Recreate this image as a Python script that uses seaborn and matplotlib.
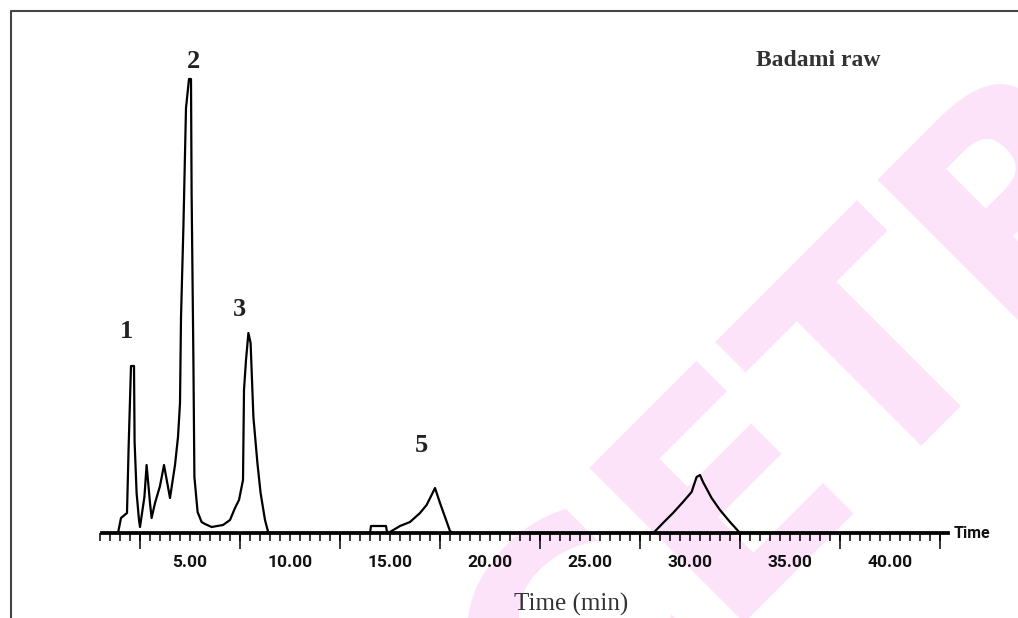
import numpy as np
import pandas as pd
import matplotlib
matplotlib.use('Agg')
import matplotlib.pyplot as plt
from matplotlib.lines import Line2D
import seaborn as sns

# ------------------------------------------------------------
# Chromatogram trace (time in min, response in arbitrary units)
# ------------------------------------------------------------
time_min = [0.58, 1.40, 1.55, 1.85, 1.93, 2.05, 2.20, 2.23, 2.33, 2.45,
            2.50, 2.72, 2.83, 3.00, 3.08, 3.25, 3.50, 3.70, 4.00, 4.25,
            4.40, 4.50, 4.55, 4.67, 4.80, 4.95, 5.05, 5.08, 5.17, 5.22,
            5.38, 5.58, 5.75, 6.08, 6.65, 7.00, 7.25, 7.45, 7.65, 7.70,
            7.80, 7.92, 8.03, 8.17, 8.37, 8.53, 8.75, 8.92, 14.00, 14.05,
            14.80, 14.85, 15.00, 15.50, 16.00, 16.50, 16.83, 17.08, 17.25, 17.50,
            17.75, 18.00, 18.15, 28.17, 28.65, 29.15, 29.65, 30.08, 30.33, 30.50,
            30.65, 31.08, 31.50, 32.00, 32.50, 42.90]
response = [0, 0, 15, 20, 85, 167, 167, 91, 40, 13,
            6, 36, 68, 30, 15, 30, 47, 68, 35, 68,
            96, 130, 215, 306, 425, 454, 454, 341, 173, 56,
            21, 11, 9, 6, 8, 13, 25, 33, 53, 143,
            173, 200, 190, 116, 70, 40, 13, 0, 0, 7,
            7, 1, 1, 7, 11, 20, 28, 38, 45, 30,
            16, 2, 0, 0, 10, 20, 31, 41, 56, 58,
            51, 35, 23, 11, 0, 0]

# labelled peaks: number and retention time (min)
peak_numbers = ['1', '2', '3', '5']
peak_rt = [2.1, 5.0, 7.9, 17.25]

tick_values = [5, 10, 15, 20, 25, 30, 35, 40]
tick_labels = ['5.00', '10.00', '15.00', '20.00', '25.00', '30.00', '35.00', '40.00']

sample_name = 'Badami raw'
watermark = 'CETR'

df = pd.DataFrame({'Time': time_min, 'Response': response})

sns.set_theme(style='white')
plt.rcParams['font.family'] = ['DejaVu Sans']

fig = plt.figure(figsize=(10.18, 6.18), dpi=100)
ax = fig.add_axes([90 / 1018, 85 / 618, 900 / 1018, 493 / 618])
ax.set_zorder(2)
ax.set_xlim(0, 45)
ax.set_ylim(0, 493)
ax.patch.set_alpha(0)

# watermark behind everything
fig.text(810 / 1018, 1 - 425 / 618, watermark, rotation=45, ha='center', va='center',
         rotation_mode='anchor', fontsize=215, fontweight='bold', color='#fce3fa',
         family='DejaVu Sans', zorder=0)

# the trace
sns.lineplot(data=df, x='Time', y='Response', ax=ax, color='black', linewidth=1.6,
             sort=False, estimator=None, zorder=3)

# axis styling: only the baseline with ticks
for side in ['left', 'right', 'top']:
    ax.spines[side].set_visible(False)
ax.spines['bottom'].set_bounds(0.6, 42.9)
ax.spines['bottom'].set_linewidth(2.7)
ax.spines['bottom'].set_color('black')
ax.set_yticks([])
ax.set_xticks(tick_values)
ax.set_xticklabels(tick_labels, family='Roboto', fontweight='bold',
                   fontsize=12.5, color='#111111')
ax.set_xticks(np.arange(0.5, 43.0, 0.5), minor=True)
ax.tick_params(axis='x', which='both', bottom=True, direction='out', length=5.8,
               width=1.1, color='black', pad=10)
ax.set_xlabel('')
ax.set_ylabel('')

# longer ticks halfway between labels
sec = ax.secondary_xaxis('bottom')
sec.set_xticks(np.arange(2.5, 43.0, 5.0))
sec.set_xticklabels([])
sec.tick_params(axis='x', length=11.5, width=1.1, color='black')
sec.spines['bottom'].set_visible(False)

ax.text(43.2, 0, 'Time', ha='left', va='center', fontsize=11.5,
        family='Roboto', fontweight='bold', color='#111111')

# peak numbers
label_dx = [-0.25, 0.15, -0.45, -0.7]
label_dy = [34, 18, 23, 43]
for num, rt, dx, dy in zip(peak_numbers, peak_rt, label_dx, label_dy):
    apex = df.loc[(df['Time'] - rt).abs().idxmin(), 'Response']
    ax.text(rt + dx, apex + dy, num, ha='center', va='center', fontsize=19,
            fontweight='bold', family='Liberation Serif', color='#222222')

fig.text(818 / 1018, 1 - 60 / 618, sample_name, ha='center', va='center', fontsize=17,
         fontweight='bold', family='Liberation Serif', color='#333333', zorder=3)
fig.text(571 / 1018, 1 - 604 / 618, 'Time (min)', ha='center', va='center', fontsize=18,
         family='Liberation Serif', color='#333333', zorder=3)

# open frame (left and top edges)
fig.add_artist(Line2D([11 / 1018, 11 / 1018, 1.0], [0.0, 1 - 11 / 618, 1 - 11 / 618],
                      transform=fig.transFigure, color='#444444', linewidth=1.5,
                      zorder=3))

plt.savefig('out.png', dpi=100)
plt.close()
